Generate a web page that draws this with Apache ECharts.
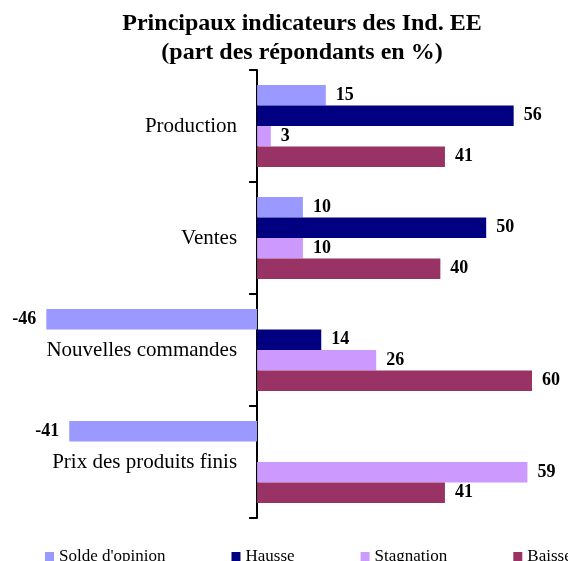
<!DOCTYPE html>
<html lang="fr">
  <head>
    <meta charset="utf-8" />
    <title>Principaux indicateurs des Ind. EE</title>
    <style>
      * {
        margin: 0;
        padding: 0;
      }

      #chart-container {
        position: relative;
        width: 568px;
        height: 561px;
        overflow: hidden;
        background: #fff;
      }
    </style>
  </head>

  <body>
    <div id="chart-container"></div>
    <script src="https://cdn.jsdelivr.net/npm/echarts@6/dist/echarts.min.js"></script>
    <script>
      var categories = ["Production", "Ventes", "Nouvelles commandes", "Prix des produits finis"];
      var seriesNames = ["Solde d'opinion", "Hausse", "Stagnation", "Baisse"];
      var solde = [15, 10, -46, -41];
      var hausse = [56, 50, 14, null];
      var stagnation = [3, 10, 26, 59];
      var baisse = [41, 40, 60, 41];
      var colors = ["#9999FF", "#000080", "#CC99FF", "#993366"];

      var serif = "'Liberation Serif', 'DejaVu Serif', serif";

      // grille : de -50 à 60, l'axe des catégories est ramené sur le zéro
      var xMin = -50;
      var xMax = 60;
      var gridLeft = 28;
      var gridRight = 36;
      var gridWidth = 568 - gridLeft - gridRight;
      var zeroOffset = (-xMin / (xMax - xMin)) * gridWidth;

      // les valeurs négatives ont leur étiquette à gauche
      function toItems(values) {
        return values.map(function (v) {
          if (v !== null && v < 0) {
            return { value: v, label: { position: "left" } };
          }
          return v;
        });
      }

      var dom = document.getElementById("chart-container");
      var myChart = echarts.init(dom, null, { renderer: "canvas" });

      var allValues = [solde, hausse, stagnation, baisse];

      var option = {
        animation: false,
        color: colors,
        title: {
          text: "Principaux indicateurs des Ind. EE\n(part des répondants en %)",
          left: 297,
          top: 4,
          textAlign: "center",
          textStyle: {
            fontFamily: serif,
            fontWeight: "bold",
            fontSize: 24,
            lineHeight: 29,
            color: "#000",
          },
        },
        legend: {
          left: 45,
          top: 548,
          width: 1000,
          padding: 0,
          itemWidth: 9,
          itemHeight: 9,
          itemGap: 66,
          icon: "rect",
          textStyle: {
            fontFamily: serif,
            fontSize: 17,
            color: "#000",
          },
          data: seriesNames,
        },
        grid: {
          left: gridLeft,
          right: gridRight,
          top: 70,
          bottom: 43,
          outerBoundsMode: "none",
        },
        xAxis: {
          type: "value",
          min: xMin,
          max: xMax,
          show: false,
          splitLine: { show: false },
        },
        yAxis: {
          type: "category",
          inverse: true,
          data: categories,
          offset: -zeroOffset,
          axisLine: {
            show: true,
            onZero: false,
            lineStyle: { color: "#000", width: 2 },
          },
          axisTick: {
            show: true,
            length: 8,
            lineStyle: { color: "#000", width: 2 },
          },
          axisLabel: {
            margin: 20,
            fontFamily: serif,
            fontSize: 21,
            color: "#000",
          },
        },
        series: seriesNames.map(function (name, i) {
          return {
            name: name,
            type: "bar",
            data: toItems(allValues[i]),
            barGap: "0%",
            barCategoryGap: "27%",
            label: {
              show: true,
              position: "right",
              distance: 10,
              fontFamily: serif,
              fontWeight: "bold",
              fontSize: 18,
              color: "#000",
            },
          };
        }),
      };

      myChart.setOption(option);
      window.addEventListener("resize", myChart.resize);
    </script>
  </body>
</html>
